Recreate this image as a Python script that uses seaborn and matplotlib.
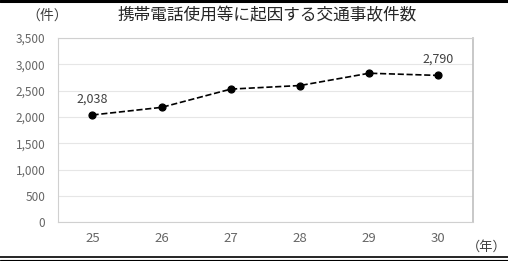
import matplotlib
matplotlib.use('Agg')
import matplotlib.pyplot as plt
import seaborn as sns
import pandas as pd
from matplotlib.lines import Line2D
from matplotlib.ticker import FuncFormatter

# data
years = ['25', '26', '27', '28', '29', '30']
accidents = [2038, 2183, 2530, 2598, 2832, 2790]
labelled = {'25': '2,038', '30': '2,790'}

sns.set_theme(style='white')
plt.rcParams['font.family'] = ['Noto Sans CJK JP', 'DejaVu Sans']

df = pd.DataFrame({'year': years, 'count': accidents})

fig = plt.figure(figsize=(5.08, 2.61), dpi=100)
ax = fig.add_axes([0.114, 0.149, 0.817, 0.705])

sns.pointplot(data=df, x='year', y='count', color='black', linestyles='--',
              markers='o', markersize=5, linewidth=1.2, ax=ax)

ax.set_xlim(-0.5, 5.5)
ax.set_ylim(0, 3500)
ax.set_yticks(range(0, 3501, 500))
ax.yaxis.set_major_formatter(FuncFormatter(lambda v, p: f'{int(v):,}'))
ax.grid(axis='y', color='#e6e6e6', linewidth=0.8)
ax.set_axisbelow(True)
for side in ['left', 'right', 'top', 'bottom']:
    ax.spines[side].set_color('#d0d0d0')
    ax.spines[side].set_linewidth(0.8)
ax.spines['right'].set_color('#bfbfbf')
ax.spines['right'].set_linewidth(1.2)
ax.tick_params(axis='y', labelsize=8.5, colors='#666666', length=3, width=0.6, pad=6)
ax.tick_params(axis='x', labelsize=9.5, colors='#666666', length=0, pad=7)
ax.set_xlabel('')
ax.set_ylabel('')

for i, (yr, val) in enumerate(zip(years, accidents)):
    if yr in labelled:
        ax.annotate(labelled[yr], (i, val), xytext=(0, 7), textcoords='offset points',
                    ha='center', va='bottom', fontsize=9, color='#404040')

fig.text(0.526, 0.94, '携帯電話使用等に起因する交通事故件数', ha='center', va='center',
         fontsize=12, color='#262626')
fig.text(0.093, 0.94, '（件）', ha='center', va='center', fontsize=10, color='#404040')
fig.text(0.958, 0.053, '（年）', ha='center', va='center', fontsize=9.5, color='#404040')

# frame lines of the original clipping
fig.add_artist(Line2D([0, 1], [0.997, 0.997], color='black', linewidth=2.2))
fig.add_artist(Line2D([0, 1], [0.016, 0.016], color='black', linewidth=1.2))
fig.add_artist(Line2D([0, 1], [0.004, 0.004], color='black', linewidth=0.8))

fig.savefig('out.png', dpi=100)
plt.close(fig)
